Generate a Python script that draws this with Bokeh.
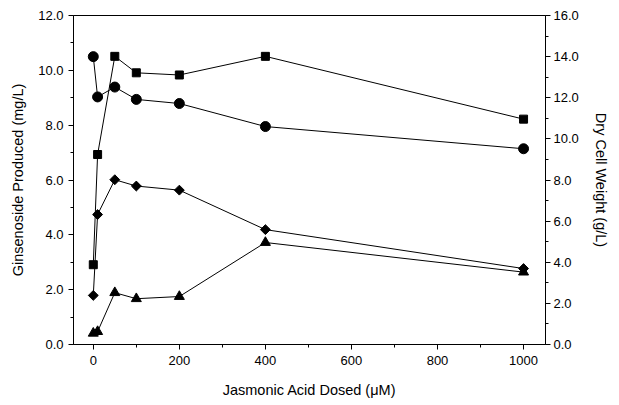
import math
from bokeh.plotting import figure
from bokeh.models import Range1d, LinearAxis, FixedTicker, NumeralTickFormatter
from bokeh.embed import file_html
from bokeh.resources import INLINE

# Data
ja_dose = [0, 10, 50, 100, 200, 400, 1000]
dcw_circles = [14.0, 12.04, 12.52, 11.92, 11.72, 10.6, 9.52]      # Dry cell weight (g/L), right axis
gin_squares = [2.91, 6.93, 10.51, 9.91, 9.83, 10.51, 8.22]        # Ginsenoside (mg/L)
gin_diamonds = [1.79, 4.74, 6.01, 5.78, 5.63, 4.19, 2.77]         # Ginsenoside (mg/L)
gin_triangles = [0.41, 0.47, 1.89, 1.67, 1.75, 3.72, 2.64]        # Ginsenoside (mg/L)

left_ticks = [0, 2, 4, 6, 8, 10, 12]
right_ticks = [0, 2, 4, 6, 8, 10, 12, 14, 16]
x_ticks = [0, 200, 400, 600, 800, 1000]

FONT = "Liberation Sans"

p = figure(width=611, height=400, output_backend="svg", toolbar_location=None,
           x_range=Range1d(-46, 1051), y_range=Range1d(0, 12),
           min_border_left=73, min_border_right=64, min_border_top=15, min_border_bottom=54)
p.extra_y_ranges = {"dcw": Range1d(0, 16)}

p.xgrid.visible = False
p.ygrid.visible = False
p.outline_line_color = "black"
p.outline_line_width = 1
p.background_fill_color = "white"
p.border_fill_color = "white"

def style_axis(ax, label, standoff):
    ax.axis_label = label
    ax.axis_label_text_font = FONT
    ax.axis_label_text_font_size = "14.5px"
    ax.axis_label_text_font_style = "normal"
    ax.axis_label_text_color = "black"
    ax.axis_label_standoff = standoff
    ax.major_label_text_font = FONT
    ax.major_label_text_font_size = "13px"
    ax.major_label_text_color = "black"
    ax.axis_line_color = "black"
    ax.major_tick_line_color = "black"
    ax.minor_tick_line_color = "black"
    ax.major_tick_out = 5
    ax.major_tick_in = 0
    ax.minor_tick_out = 3
    ax.minor_tick_in = 0

xa = p.xaxis[0]
xa.ticker = FixedTicker(ticks=x_ticks, minor_ticks=[t + 100 for t in range(-200, 1000, 200)])
style_axis(xa, "Jasmonic Acid Dosed (\u03bcM)", 14)
xa.major_label_standoff = 6

ya = p.yaxis[0]
ya.ticker = FixedTicker(ticks=left_ticks, minor_ticks=[1, 3, 5, 7, 9, 11])
ya.formatter = NumeralTickFormatter(format="0.0")
style_axis(ya, "Ginsenoside Produced (mg/L)", 9)
ya.major_label_standoff = 5

ra = LinearAxis(y_range_name="dcw")
ra.ticker = FixedTicker(ticks=right_ticks, minor_ticks=[1, 3, 5, 7, 9, 11, 13, 15])
ra.formatter = NumeralTickFormatter(format="0.0")
style_axis(ra, "Dry Cell Weight (g/L)", 11)
ra.major_label_standoff = 3
p.add_layout(ra, "right")

# Lines
p.line(ja_dose, dcw_circles, y_range_name="dcw", line_color="black", line_width=1)
p.line(ja_dose, gin_squares, line_color="black", line_width=1)
p.line(ja_dose, gin_diamonds, line_color="black", line_width=1)
p.line(ja_dose, gin_triangles, line_color="black", line_width=1)

# Markers
p.scatter(ja_dose, dcw_circles, y_range_name="dcw", marker="circle", size=10,
          fill_color="black", line_color="black")
p.scatter(ja_dose, gin_squares, marker="square", size=8,
          fill_color="black", line_color="black")
p.scatter(ja_dose, gin_diamonds, marker="square", size=7, angle=math.pi / 4,
          fill_color="black", line_color="black")
p.scatter(ja_dose, gin_triangles, marker="triangle", size=10,
          fill_color="black", line_color="black")

open("out.html", "w").write(file_html(p, INLINE))
